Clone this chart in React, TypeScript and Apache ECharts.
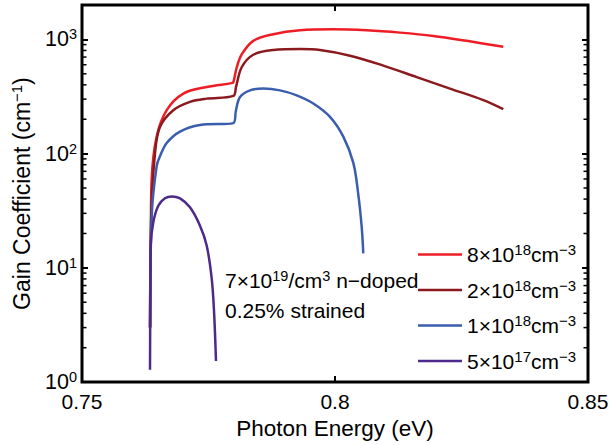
import React, { useEffect, useRef } from "react";
import * as echarts from "echarts";

const FONT = "'Liberation Sans', Arial, Helvetica, sans-serif";

// Photon energy (eV) / gain coefficient (cm^-1) for each doping level
const redE = [0.76345, 0.7636, 0.76377, 0.76476, 0.76674, 0.77002, 0.77464, 0.77958, 0.7799, 0.78057, 0.78156, 0.78385, 0.78781, 0.79308, 0.79966, 0.80626, 0.81285, 0.81943, 0.82603, 0.83326];
const redG = [3, 20, 60, 141, 240, 335, 383, 414, 420, 566, 738, 971, 1109, 1200, 1224, 1200, 1146, 1072, 971, 861];

const darkE = [0.76345, 0.7637, 0.76443, 0.76542, 0.76804, 0.77134, 0.77464, 0.7799, 0.78043, 0.78156, 0.78385, 0.78781, 0.79308, 0.79704, 0.80296, 0.80955, 0.81615, 0.82273, 0.82931, 0.83326];
const darkG = [3, 30, 101, 172, 240, 284, 303, 320, 382, 570, 734, 807, 823, 807, 720, 590, 468, 371, 294, 245];

const blueE = [0.76345, 0.7638, 0.76476, 0.76542, 0.76674, 0.76937, 0.77332, 0.7799, 0.78043, 0.78123, 0.7832, 0.78583, 0.78913, 0.79243, 0.79571, 0.79901, 0.80164, 0.80362, 0.8046, 0.80528, 0.80559];
const blueG = [3, 30, 78, 95, 124, 156, 178, 185, 240, 313, 358, 371, 358, 324, 275, 210, 141, 83, 44, 22.7, 13.4];

const purpleE = [0.76344, 0.7635, 0.76358, 0.76409, 0.76508, 0.7664, 0.76773, 0.76937, 0.77134, 0.77332, 0.77464, 0.77563, 0.77609, 0.77648];
const purpleG = [1.28, 5.4, 15.7, 25.1, 35, 40.6, 42.2, 40.6, 33.9, 23.4, 15.7, 8.1, 4.2, 1.53];

const legendMantissa = ["8", "2", "1", "5"];
const legendExponent = ["18", "18", "18", "17"];
const seriesColors = ["#EE1D25", "#8B1A1E", "#3A5DAE", "#4D2A8A"];

const xTicks = [0.75, 0.8, 0.85];
const yMin = 1;
const yMax = 2000;
const minorTickValues = [2, 3, 4, 5, 6, 7, 8, 9, 20, 30, 40, 50, 60, 70, 80, 90, 200, 300, 400, 500, 600, 700, 800, 900];

const xName = "Photon Energy (eV)";
const yNameMain = "Gain Coefficient (cm";
const yNameSup = "−1";
const noteLine1 = ["7×10", "19", "/cm", "3", " n−doped"];
const noteLine2 = "0.25% strained";

const zip = (xs: number[], ys: number[]) => xs.map((x, i) => [x, ys[i]]);

export default function App() {
  const ref = useRef<HTMLDivElement>(null);
  useEffect(() => {
    if (!ref.current) return;
    const chart = echarts.init(ref.current, undefined, { renderer: "svg" });
    const names = legendMantissa.map((m, i) => `${m}×10^${legendExponent[i]}cm^-3`);
    const datasets = [zip(redE, redG), zip(darkE, darkG), zip(blueE, blueG), zip(purpleE, purpleG)];

    const xAxisCommon = {
      type: "value",
      min: xTicks[0],
      max: xTicks[xTicks.length - 1],
      interval: 0.05,
      axisLine: { show: false },
      splitLine: { show: false },
      axisTick: { show: true, inside: true, length: 6, lineStyle: { color: "#000", width: 2 } },
    };
    const yAxisCommon = {
      type: "log",
      logBase: 10,
      min: yMin,
      max: yMax,
      axisLine: { show: false },
      splitLine: { show: false },
      minorTick: { show: false },
      axisTick: { show: true, inside: true, length: 6, lineStyle: { color: "#000", width: 2 } },
    };

    chart.setOption({
      animation: false,
      backgroundColor: "#fff",
      grid: { left: 82, right: 24, top: 5, bottom: 60, show: true, borderWidth: 3, borderColor: "#000", backgroundColor: "transparent" },
      xAxis: [
        {
          ...xAxisCommon,
          position: "bottom",
          name: xName,
          nameLocation: "middle",
          nameGap: 32,
          nameTextStyle: { fontSize: 22.5, fontFamily: FONT, color: "#000" },
          axisLabel: {
            show: true,
            margin: 9,
            fontSize: 21,
            fontFamily: FONT,
            color: "#000",
            formatter: (v: number) => String(parseFloat(v.toFixed(2))),
          },
        },
        { ...xAxisCommon, position: "top", axisLabel: { show: false } },
      ],
      yAxis: [
        {
          ...yAxisCommon,
          position: "left",
          name: `{b|${yNameMain}}{s|${yNameSup}}{b|)}`,
          nameLocation: "middle",
          nameGap: 45,
          nameTextStyle: {
            fontSize: 23,
            fontFamily: FONT,
            color: "#000",
            rich: {
              b: { fontSize: 23, fontFamily: FONT, color: "#000", lineHeight: 27 },
              s: { fontSize: 15, fontFamily: FONT, color: "#000", lineHeight: 27, padding: [0, 0, 10, 0] },
            },
          },
          axisLabel: {
            show: true,
            margin: 5,
            showMaxLabel: false,
            formatter: (v: number) => `{b|10}{s|${Math.round(Math.log10(v))}}`,
            rich: {
              b: { fontSize: 21.5, fontFamily: FONT, color: "#000", lineHeight: 26 },
              s: { fontSize: 14.5, fontFamily: FONT, color: "#000", lineHeight: 26, padding: [0, 0, 10, 0] },
            },
          },
        },
        { ...yAxisCommon, position: "right", axisLabel: { show: false } },
      ],
      legend: {
        data: names,
        orient: "vertical",
        left: 418,
        top: 242,
        icon: "rect",
        itemWidth: 44,
        itemHeight: 2.5,
        itemGap: 10.5,
        padding: 0,
        formatter: (name: string) => {
          const i = names.indexOf(name);
          return `{b|${legendMantissa[i]}×10}{s|${legendExponent[i]}}{b|cm}{s|−3}`;
        },
        textStyle: {
          fontSize: 21,
          fontFamily: FONT,
          rich: {
            b: { fontSize: 21, fontFamily: FONT, color: "#000", lineHeight: 26 },
            s: { fontSize: 15, fontFamily: FONT, color: "#000", lineHeight: 26, padding: [0, 0, 10, 0] },
          },
        },
      },
      series: [
        ...datasets.map((d, i) => ({
          type: "line",
          name: names[i],
          data: d,
          symbol: "none",
          smooth: 0.35,
          color: seriesColors[i],
          lineStyle: { color: seriesColors[i], width: 2.5 },
          xAxisIndex: 0,
          yAxisIndex: 0,
          z: 3,
        })),
        {
          type: "custom",
          name: "minorTicks",
          coordinateSystem: "cartesian2d",
          xAxisIndex: 0,
          yAxisIndex: 0,
          silent: true,
          clip: false,
          encode: { x: 0, y: 1 },
          data: minorTickValues.map((v) => [xTicks[0], v]),
          renderItem: (params: any, api: any) => {
            const v = api.value(1);
            const pl = api.coord([xTicks[0], v]);
            const pr = api.coord([xTicks[xTicks.length - 1], v]);
            const st = { stroke: "#000", lineWidth: 1.5 };
            return {
              type: "group",
              children: [
                { type: "line", shape: { x1: pl[0], y1: pl[1], x2: pl[0] + 4.5, y2: pl[1] }, style: st },
                { type: "line", shape: { x1: pr[0] - 4.5, y1: pr[1], x2: pr[0], y2: pr[1] }, style: st },
              ],
            };
          },
          z: 4,
        },
      ],
      graphic: [
        {
          type: "text",
          left: 225,
          top: 268,
          z: 10,
          style: {
            text: `{b|${noteLine1[0]}}{s|${noteLine1[1]}}{b|${noteLine1[2]}}{s|${noteLine1[3]}}{b|${noteLine1[4]}}\n{b|${noteLine2}}`,
            rich: {
              b: { fontSize: 21, fontFamily: FONT, fill: "#000", lineHeight: 29.5 },
              s: { fontSize: 14.5, fontFamily: FONT, fill: "#000", lineHeight: 29.5, padding: [0, 0, 10, 0] },
            },
          },
        },
      ],
    });
    return () => chart.dispose();
  }, []);
  return <div ref={ref} style={{ position: "fixed", left: 0, top: 0, width: 612, height: 445 }} />;
}
